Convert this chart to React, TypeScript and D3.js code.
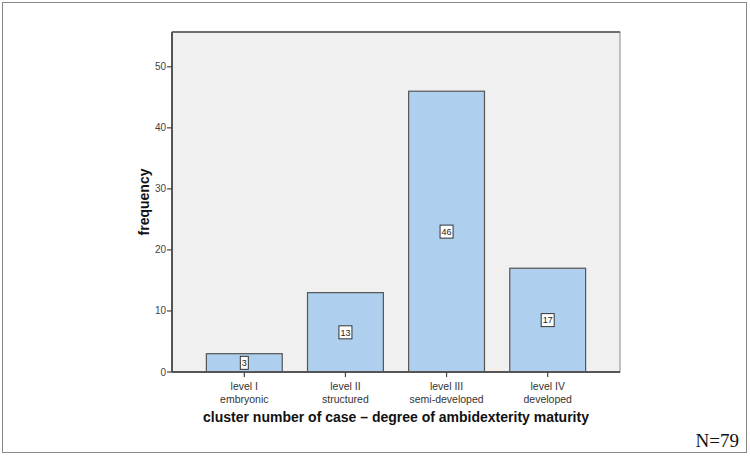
import React from 'react';
import * as d3 from 'd3';

const categories = ['level I', 'level II', 'level III', 'level IV'];
const subLabels = ['embryonic', 'structured', 'semi-developed', 'developed'];
const frequencies = [3, 13, 46, 17];
const yTicks = [0, 10, 20, 30, 40, 50];

const W = 750;
const H = 456;
const plot = { left: 172, right: 620, top: 32, bottom: 372 };

export default function App() {
  const x = d3.scaleBand<string>()
    .domain(categories)
    .range([plot.left, plot.right])
    .paddingInner(0.25)
    .paddingOuter(0.34);

  const y = d3.scaleLinear()
    .domain([0, 55.7])
    .range([plot.bottom, plot.top]);

  return (
    <div style={{ position: 'fixed', left: 0, top: 0 }}>
      <svg width={W} height={H} style={{ display: 'block', fontFamily: 'Arial, "Liberation Sans", sans-serif' }}>
        <rect x={0} y={0} width={W} height={H} fill="#fff" />
        {/* outer frame */}
        <rect x={2.5} y={2.5} width={744} height={450} fill="none" stroke="#888" strokeWidth={1} />

        {/* plot background */}
        <rect x={plot.left} y={plot.top} width={plot.right - plot.left} height={plot.bottom - plot.top}
          fill="#f0f0f0" stroke="#888" strokeWidth={1} />
        <line x1={plot.left} x2={plot.right} y1={plot.top} y2={plot.top} stroke="#555" strokeWidth={1.5} />

        {/* bars */}
        {frequencies.map((v, i) => {
          const bx = x(categories[i])!;
          const by = y(v);
          const bh = y(0) - by;
          const cx = bx + x.bandwidth() / 2;
          const cy = by + bh / 2;
          const label = String(v);
          const bw = label.length * 5 + 3;
          return (
            <g key={categories[i]}>
              <rect x={bx} y={by} width={x.bandwidth()} height={bh} fill="#aed0ee" stroke="#555" strokeWidth={1.2} />
              <rect x={cx - bw / 2} y={cy - 6.5} width={bw} height={13} fill="#fff" stroke="#333" strokeWidth={1} />
              <text x={cx} y={cy + 3.2} textAnchor="middle" fontSize={9} fill="#222">{label}</text>
            </g>
          );
        })}

        {/* y axis */}
        <line x1={plot.left} x2={plot.left} y1={plot.top} y2={plot.bottom} stroke="#555" strokeWidth={2} />
        {yTicks.map(t => (
          <g key={t}>
            <line x1={plot.left - 5} x2={plot.left} y1={y(t)} y2={y(t)} stroke="#444" strokeWidth={1.2} />
            <text x={plot.left - 6} y={y(t) + 3.5} textAnchor="end" fontSize={10} fill="#444">{t}</text>
          </g>
        ))}

        {/* x axis */}
        <line x1={plot.left} x2={plot.right} y1={plot.bottom} y2={plot.bottom} stroke="#555" strokeWidth={2} />
        {categories.map((c, i) => {
          const cx = x(c)! + x.bandwidth() / 2;
          return (
            <g key={c}>
              <line x1={cx} x2={cx} y1={plot.bottom} y2={plot.bottom + 5} stroke="#444" strokeWidth={1.2} />
              <text x={cx} y={390} textAnchor="middle" fontSize={10.5} fill="#333">{c}</text>
              <text x={cx} y={403} textAnchor="middle" fontSize={10.5} fill="#333">{subLabels[i]}</text>
            </g>
          );
        })}

        {/* axis titles */}
        <text x={(plot.left + plot.right) / 2} y={422} textAnchor="middle" fontSize={14} fontWeight="bold" fill="#111">
          cluster number of case – degree of ambidexterity maturity
        </text>
        <text transform={`translate(149,${(plot.top + plot.bottom) / 2}) rotate(-90)`} textAnchor="middle"
          fontSize={14} fontWeight="bold" fill="#111">
          frequency
        </text>

        <text x={739} y={447} textAnchor="end" fontSize={19} fill="#111" fontFamily='"Liberation Serif", "Times New Roman", serif'>
          N=79
        </text>
      </svg>
    </div>
  );
}
